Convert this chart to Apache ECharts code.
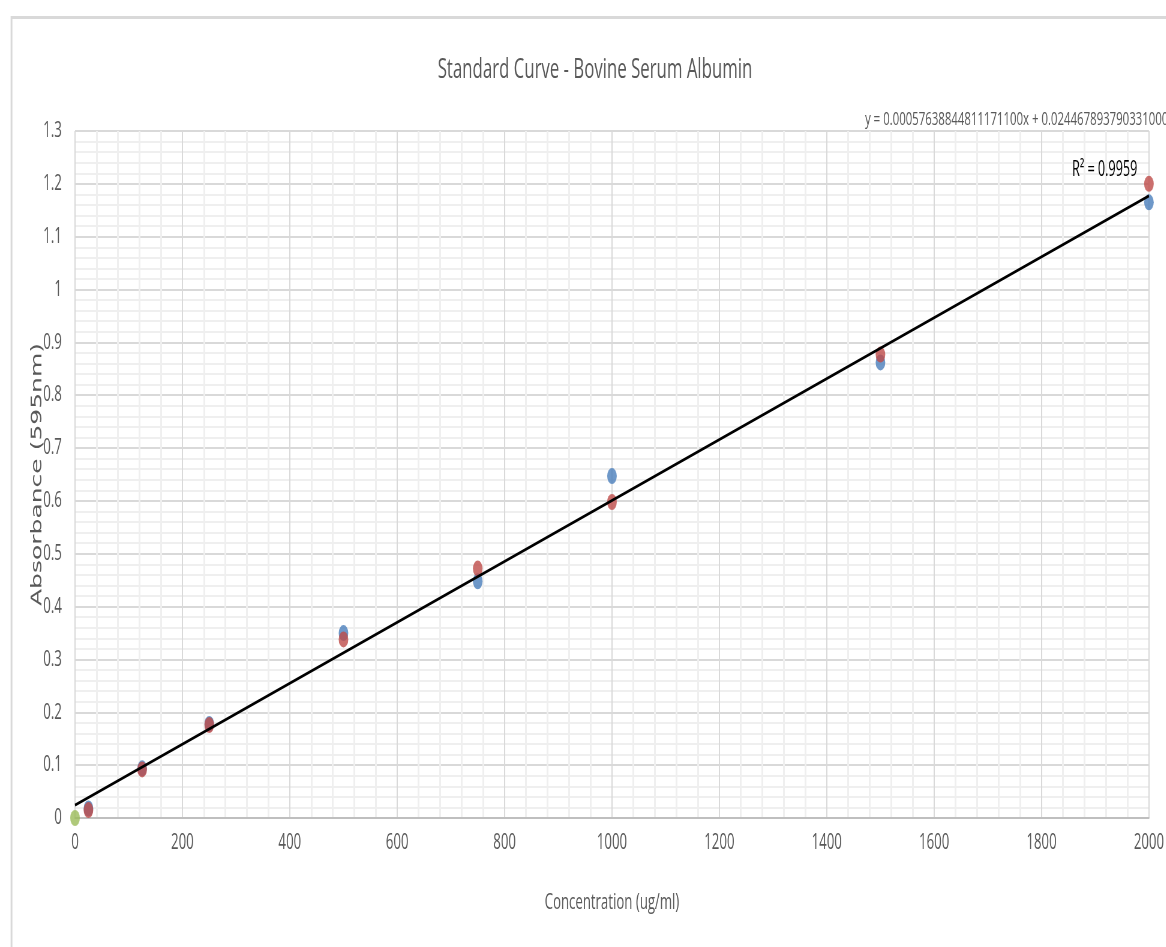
<!DOCTYPE html>
<html>
<head>
<meta charset="utf-8">
<script src="https://cdn.jsdelivr.net/npm/echarts@6/dist/echarts.min.js"></script>
<style>
html,body{margin:0;padding:0;background:#fff;overflow:hidden;width:1166px;height:947px;}
#c{width:1943px;height:947px;transform:scaleX(0.6);transform-origin:0 0;}
</style>
</head>
<body>
<div id="c"></div>
<script>
const concentration = [0, 25, 125, 250, 500, 750, 1000, 1500, 2000];
const blueValues = [null, 0.018, 0.094, 0.178, 0.350, 0.448, 0.647, 0.862, 1.165];
const redValues  = [null, 0.015, 0.092, 0.176, 0.338, 0.472, 0.598, 0.877, 1.200];
const greenX = [0];
const greenValues = [0];
const trendX = [0, 2000];
const trendY = [0.0245, 1.1772];
const xTicks = [0, 200, 400, 600, 800, 1000, 1200, 1400, 1600, 1800, 2000];
const yTicks = [0, 0.1, 0.2, 0.3, 0.4, 0.5, 0.6, 0.7, 0.8, 0.9, 1, 1.1, 1.2, 1.3];
const titleText = 'Standard Curve - Bovine Serum Albumin';
const xName = 'Concentration (ug/ml)';
const yName = 'Absorbance (595nm)';
const equationText = 'y = 0.00057638844811171100x + 0.0244678937903310000';
const r2Text = 'R² = 0.9959';

const S = 0.6; // horizontal squash applied to the whole canvas
const ux = v => v / S;
const body = '"Open Sans", "Noto Sans", sans-serif';
const pair = (xs, ys) => xs.map((x, i) => [x, ys[i]]).filter(p => p[1] !== null);

const chart = echarts.init(document.getElementById('c'), null, {renderer: 'canvas', width: 1943, height: 947});
chart.setOption({
  backgroundColor: '#fff',
  animation: false,
  title: {
    text: titleText, left: ux(592), top: 51, textAlign: 'center',
    textStyle: {fontFamily: body, fontSize: 28, fontWeight: 'normal', color: '#595959'}
  },
  grid: {left: ux(75), right: ux(16), top: 131, bottom: 129, containLabel: false},
  xAxis: {
    type: 'value', min: 0, max: 2000, interval: 200,
    name: xName, nameLocation: 'middle', nameGap: 74,
    nameTextStyle: {fontFamily: body, fontSize: 22, color: '#595959'},
    axisLine: {show: true, lineStyle: {color: '#bfbfbf', width: 2}},
    axisTick: {show: false},
    axisLabel: {fontFamily: body, fontSize: 22, color: '#595959', margin: 14,
      formatter: v => xTicks.includes(v) ? String(v) : ''},
    splitLine: {show: true, lineStyle: {color: '#d9d9d9', width: 2}},
    minorTick: {show: false, splitNumber: 5},
    minorSplitLine: {show: true, lineStyle: {color: '#efefef', width: 3}}
  },
  yAxis: {
    type: 'value', min: 0, max: 1.3, interval: 0.1,
    name: yName, nameLocation: 'middle', nameGap: 50, nameMoveOverlap: false,
    nameTextStyle: {fontFamily: '"DejaVu Sans", sans-serif', fontSize: 25, color: '#595959'},
    axisLine: {show: false},
    axisTick: {show: false},
    axisLabel: {fontFamily: body, fontSize: 22, color: '#595959', margin: 22,
      formatter: v => { const t = yTicks.find(y => Math.abs(y - v) < 1e-9); return t === undefined ? '' : String(t); }},
    splitLine: {show: true, lineStyle: {color: '#d9d9d9', width: 2}},
    minorTick: {show: false, splitNumber: 5},
    minorSplitLine: {show: true, lineStyle: {color: '#efefef', width: 2}}
  },
  graphic: [
    {type: 'rect', left: ux(10), top: 15, shape: {width: 2500, height: 1100}, silent: true, z: -10,
      style: {fill: 'none', stroke: '#d9d9d9', lineWidth: 3}},
    {type: 'text', x: ux(865), y: 120,
      style: {text: equationText, fontFamily: body, fontSize: 19, fill: '#595959', textAlign: 'left', textVerticalAlign: 'middle'}},
    {type: 'text', x: ux(1072), y: 170, z: 100,
      style: {text: r2Text, fontFamily: body, fontSize: 21, fill: '#000', textAlign: 'left', textVerticalAlign: 'middle'}}
  ],
  series: [
    {type: 'scatter', name: 'Blue', data: pair(concentration, blueValues), symbol: 'circle', symbolSize: 16,
      itemStyle: {color: '#4a7ebb'}, z: 3},
    {type: 'scatter', name: 'Red', data: pair(concentration, redValues), symbol: 'circle', symbolSize: 16,
      itemStyle: {color: '#be4b48'}, z: 4},
    {type: 'scatter', name: 'Green', data: pair(greenX, greenValues), symbol: 'circle', symbolSize: 16,
      itemStyle: {color: '#9bbb59'}, z: 5},
    {type: 'line', name: 'Trend', data: pair(trendX, trendY), showSymbol: false, symbol: 'none',
      lineStyle: {color: '#000', width: 3}, z: 6}
  ]
});
</script>
</body>
</html>
